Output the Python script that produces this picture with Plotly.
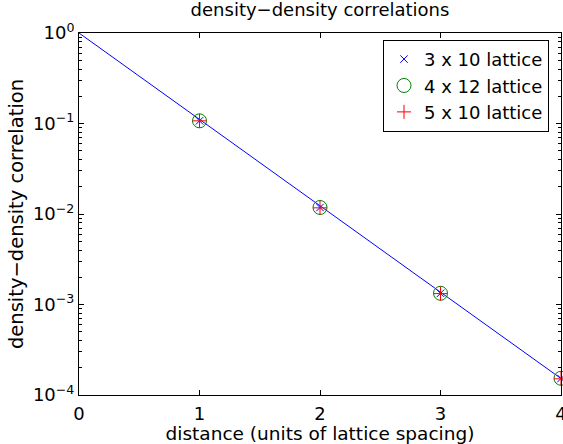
import plotly.graph_objects as go

# ---- data ----
distance = [1, 2, 3, 4]
corr_3x10 = [0.107, 0.0118, 0.00133, 0.000152]
corr_4x12 = [0.107, 0.0118, 0.00133, 0.000153]
corr_5x10 = [0.107, 0.0117, 0.00132, 0.000151]
fit_x = [0, 4]
fit_y = [1.0, 1.52e-4]

x_ticks = [0, 1, 2, 3, 4]
y_decades = [-4, -3, -2, -1, 0]
y_ticktext = ["10<sup>−4</sup>", "10<sup>−3</sup>", "10<sup>−2</sup>", "10<sup>−1</sup>", "10<sup>0</sup>"]

FONT = "DejaVu Sans"
BLUE = "rgb(0,0,255)"
GREEN = "rgb(0,128,0)"
RED = "rgb(255,0,0)"

y_major = [10.0 ** d for d in y_decades]
y_minor = [m * 10.0 ** d for d in y_decades[:-1] for m in range(2, 10)]

W, H = 563, 444

fig = go.Figure()
fig.add_trace(go.Scatter(x=fit_x, y=fit_y, mode="lines",
                         line=dict(color=BLUE, width=1), showlegend=False,
                         cliponaxis=False))
fig.add_trace(go.Scatter(x=distance, y=corr_3x10, mode="markers", name="3 x 10 lattice",
                         marker=dict(symbol="x-thin", size=7.5, color=BLUE,
                                     line=dict(color=BLUE, width=1)),
                         cliponaxis=False))
fig.add_trace(go.Scatter(x=distance, y=corr_4x12, mode="markers", name="4 x 12 lattice",
                         marker=dict(symbol="circle-open", size=14, color=GREEN,
                                     line=dict(color=GREEN, width=1)),
                         cliponaxis=False))
fig.add_trace(go.Scatter(x=distance, y=corr_5x10, mode="markers", name="5 x 10 lattice",
                         marker=dict(symbol="cross-thin", size=10, color=RED,
                                     line=dict(color=RED, width=1)),
                         cliponaxis=False))

fig.update_layout(
    width=W, height=H,
    margin=dict(l=79, r=2, t=33, b=49, autoexpand=False),
    paper_bgcolor="white", plot_bgcolor="white",
    font=dict(family=FONT, size=18, color="black"),
    title=dict(text="density−density correlations", x=320 / W, xref="container",
               xanchor="center", y=1 - 10 / H, yanchor="middle", yref="container",
               font=dict(family=FONT, size=18, color="black"), automargin=False),
    xaxis=dict(range=[0, 4], tickvals=x_ticks, ticktext=[str(v) for v in x_ticks],
               ticks="inside", ticklen=5, tickcolor="black", tickwidth=1,
               showline=True, linecolor="black", linewidth=1, mirror="ticks",
               showgrid=False, zeroline=False, ticklabeloverflow="allow",
               ticklabelstandoff=2, automargin=False,
               tickfont=dict(family=FONT, size=18),
               title=dict(text="distance (units of lattice spacing)",
                          font=dict(family=FONT, size=18.5), standoff=4)),
    yaxis=dict(type="log", range=[-4, 0], tickvals=y_major, ticktext=y_ticktext,
               ticks="inside", ticklen=5, tickcolor="black", tickwidth=1,
               minor=dict(tickvals=y_minor, ticks="inside", ticklen=3,
                          tickcolor="black", tickwidth=1, showgrid=False),
               showline=True, linecolor="black", linewidth=1, mirror="ticks",
               showgrid=False, zeroline=False, automargin=False,
               tickfont=dict(family=FONT, size=18),
               title=dict(text="density−density correlation",
                          font=dict(family=FONT, size=19.5), standoff=4)),
    legend=dict(x=(383 - 79) / 482, xanchor="left", y=0.981, yanchor="top",
                bgcolor="white", bordercolor="black", borderwidth=1,
                font=dict(family=FONT, size=18), tracegroupgap=0),
)

# the page body has a default 8px margin; remove it so the figure fills the window
fig.write_html("out.html",
               config={"displayModeBar": False},
               post_script="document.body.style.margin='0px';document.body.style.overflow='hidden';")
